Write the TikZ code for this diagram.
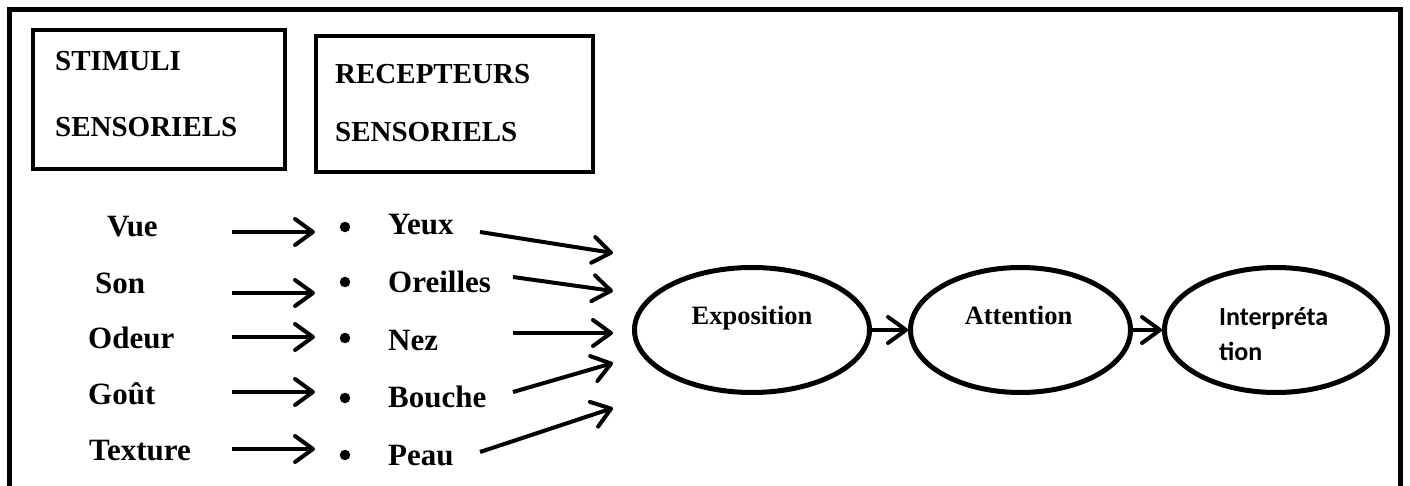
\documentclass[tikz,border=0pt]{standalone}
\usepackage{fontspec}
\setmainfont{Liberation Serif}
\newfontfamily\carlito{Carlito}
\usetikzlibrary{arrows.meta,shapes.geometric}
\begin{document}
\begin{tikzpicture}[x=1pt,y=-1pt,
  frame/.style={line width=5pt},
  hbox/.style={draw, rectangle, line width=4pt, inner sep=0pt},
  htext/.style={anchor=base west, inner sep=0pt, font=\fontsize{29}{35}\selectfont\bfseries},
  ltext/.style={anchor=base west, inner sep=0pt, font=\fontsize{31}{37}\selectfont\bfseries},
  dot/.style={circle, fill, inner sep=0pt, minimum size=10.5pt},
  arr/.style={line width=4pt, -{Straight Barb[length=18pt,width=26pt,round]}},
  ell/.style={draw, ellipse, line width=5pt, inner sep=0pt},
  etext/.style={anchor=base, inner sep=0pt, font=\fontsize{26.5}{32}\selectfont\bfseries},
  stext/.style={anchor=base west, inner sep=0pt, font=\fontsize{26}{32}\selectfont\carlito\bfseries},
]
\useasboundingbox (0,0) rectangle (1410,486);

% outer frame, open at the bottom
\draw[frame] (9.5,500) -- (9.5,9.5) -- (1400,9.5) -- (1400,500);

% header boxes
\node[hbox, minimum width=252pt, minimum height=138.5pt] (stimbox) at (159,99.75) {};
\node[hbox, minimum width=277pt, minimum height=136.5pt] (recbox) at (454.5,104.25) {};
\node[htext] (h1) at (55,71) {STIMULI};
\node[htext] (h2) at (55,137) {SENSORIELS};
\node[htext] (h3) at (335,84) {RECEPTEURS};
\node[htext] (h4) at (335,142) {SENSORIELS};

% stimuli
\node[ltext] (vue) at (107,237) {Vue};
\node[ltext] (son) at (95,294) {Son};
\node[ltext] (ode) at (88,348) {Odeur};
\node[ltext] (gou) at (88,404) {Goût};
\node[ltext] (tex) at (89,460) {Texture};

% bullets and receptors
\node[dot] (b1) at (345,227) {};
\node[dot] (b2) at (345,282) {};
\node[dot] (b3) at (345,338) {};
\node[dot] (b4) at (345,398) {};
\node[dot] (b5) at (345,455) {};
\node[ltext] (yeu) at (388,235) {Yeux};
\node[ltext] (ore) at (388,292) {Oreilles};
\node[ltext] (nez) at (388,350) {Nez};
\node[ltext] (bou) at (388,407) {Bouche};
\node[ltext] (pea) at (388,465) {Peau};

% arrow ends
\coordinate (s1) at (232,232); \coordinate (t1) at (315,232);
\coordinate (s2) at (232,293); \coordinate (t2) at (315,293);
\coordinate (s3) at (232,337); \coordinate (t3) at (315,337);
\coordinate (s4) at (232,392); \coordinate (t4) at (315,392);
\coordinate (s5) at (232,449); \coordinate (t5) at (315,449);
\coordinate (r1) at (480,232); \coordinate (e1) at (613,253);
\coordinate (r2) at (513,277); \coordinate (e2) at (613,291);
\coordinate (r3) at (513,333); \coordinate (e3) at (613,333);
\coordinate (r4) at (513,392); \coordinate (e4) at (613,363);
\coordinate (r5) at (480,452); \coordinate (e5) at (613,408);

\foreach \i in {1,...,5} {
  \draw[arr] (s\i) -- (t\i);
  \draw[arr] (r\i) -- (e\i);
}

% perception stages
\node[ell, minimum width=235pt, minimum height=125pt] (exp) at (752,330) {};
\node[ell, minimum width=220pt, minimum height=125pt] (att) at (1020.5,330) {};
\node[ell, minimum width=223pt, minimum height=125pt] (int) at (1276,330) {};
\node[etext] (expt) at (752,324) {Exposition};
\node[etext] (attt) at (1018.5,324) {Attention};
\node[stext] (intt1) at (1219,325) {Interpréta};
\node[stext] (intt2) at (1219,360) {tion};

\draw[arr] (exp) -- (att);
\draw[arr] (att) -- (int);
\end{tikzpicture}
\end{document}
